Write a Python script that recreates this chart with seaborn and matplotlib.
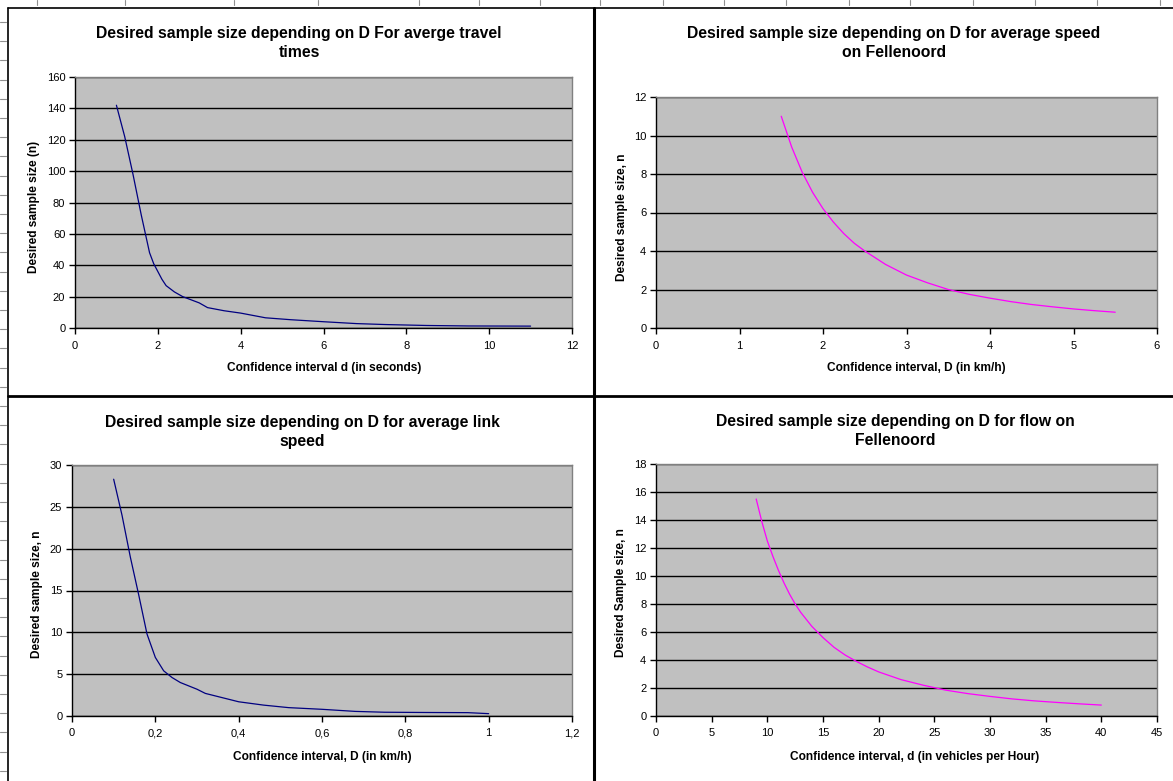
import numpy as np
import matplotlib.pyplot as plt
import matplotlib.ticker as mticker
from matplotlib.lines import Line2D
import seaborn as sns

# values
travel_d = [1.0, 1.1, 1.2, 1.3, 1.4, 1.5, 1.6, 1.7, 1.8, 1.9, 2.0, 2.1, 2.2, 2.4,
            2.6, 2.8, 3.0, 3.2, 3.6, 4.0, 4.6, 5.2, 6.0, 6.8, 7.5, 8.5, 9.5, 11.0]
travel_n = [142, 132, 122, 110, 98, 85, 72, 60, 48, 41, 36, 31, 27, 23,
            20, 18, 16, 13, 11, 9.5, 6.5, 5.3, 4.0, 2.8, 2.2, 1.6, 1.3, 1.2]

speed_d = [1.5, 1.625, 1.75, 1.875, 2.0, 2.125, 2.25, 2.375, 2.5, 2.75, 3.0,
           3.25, 3.5, 3.75, 4.0, 4.25, 4.5, 4.75, 5.0, 5.25, 5.5]
speed_n = [11.0, 9.4, 8.1, 7.05, 6.2, 5.5, 4.9, 4.4, 4.0, 3.3, 2.75,
           2.35, 2.0, 1.75, 1.55, 1.37, 1.22, 1.1, 0.99, 0.9, 0.82]

link_d = [0.10, 0.12, 0.14, 0.16, 0.18, 0.20, 0.22, 0.24, 0.26, 0.28, 0.30, 0.32,
          0.36, 0.40, 0.46, 0.52, 0.60, 0.68, 0.75, 0.85, 0.95, 1.00]
link_n = [28.3, 24, 19, 14.5, 9.8, 7.0, 5.4, 4.6, 4.0, 3.6, 3.2, 2.7,
          2.2, 1.7, 1.3, 1.0, 0.8, 0.55, 0.45, 0.42, 0.4, 0.28]

flow_d = [9, 9.5, 10, 10.5, 11, 11.5, 12, 12.5, 13, 14, 15, 16, 17, 18, 19, 20,
          22, 24, 26, 28, 30, 32, 34, 36, 38, 40]
flow_n = [15.5, 13.9, 12.5, 11.4, 10.4, 9.5, 8.7, 8.0, 7.4, 6.4, 5.6, 4.9, 4.35,
          3.9, 3.5, 3.15, 2.6, 2.2, 1.85, 1.6, 1.4, 1.22, 1.08, 0.97, 0.87, 0.78]

sns.set_theme(style="white")
plt.rcParams['font.family'] = ['Liberation Sans', 'DejaVu Sans']

W, H = 1173, 781
fig = plt.figure(figsize=(W / 100, H / 100), dpi=100)
fig.patch.set_facecolor('white')


def fx(x):
    return x / W


def fy(y):
    return 1 - y / H


def panel(box, d, n, color, xmax, xstep, ymax, ystep, title, title_xy,
          xlabel, xlab_xy, ylabel, ylab_xy, comma=False):
    left, top, right, bottom = box
    ax = fig.add_axes([fx(left), fy(bottom), (right - left) / W, (bottom - top) / H])
    ax.set_facecolor('#C0C0C0')
    sns.lineplot(x=d, y=n, ax=ax, color=color, lw=0.9, estimator=None)
    ax.set_xlim(0, xmax)
    ax.set_ylim(0, ymax)
    ax.xaxis.set_major_locator(mticker.MultipleLocator(xstep))
    ax.yaxis.set_major_locator(mticker.MultipleLocator(ystep))
    if comma:
        ax.xaxis.set_major_formatter(
            mticker.FuncFormatter(lambda v, p: f"{v:g}".replace('.', ',')))
    ax.set_axisbelow(True)
    ax.yaxis.grid(True, color='black', lw=1.0)
    ax.xaxis.grid(False)
    for s in ['left', 'bottom']:
        ax.spines[s].set_color('black')
        ax.spines[s].set_linewidth(1.0)
    for s in ['top', 'right']:
        ax.spines[s].set_color('#808080')
        ax.spines[s].set_linewidth(1.0)
    ax.tick_params(axis='both', direction='out', length=4, width=1.0,
                   color='black', labelsize=8, labelcolor='black',
                   bottom=True, left=True)
    ax.tick_params(axis='x', pad=5)
    ax.tick_params(axis='y', pad=3)
    ax.set_xlabel(xlabel, fontsize=8.6, fontweight='bold', color='black')
    ax.set_ylabel(ylabel, fontsize=8.6, fontweight='bold', color='black')
    ax.xaxis.set_label_coords(fx(xlab_xy[0]), fy(xlab_xy[1]), transform=fig.transFigure)
    ax.yaxis.set_label_coords(fx(ylab_xy[0]), fy(ylab_xy[1]), transform=fig.transFigure)
    fig.text(fx(title_xy[0]), fy(title_xy[1]), title, ha='center', va='center',
             fontsize=11.3, fontweight='bold', linespacing=1.3, color='black')
    return ax


panel((75, 77, 572, 328), travel_d, travel_n, '#000080', 12, 2, 160, 20,
      'Desired sample size depending on D For averge travel\ntimes', (299, 43),
      'Confidence interval d (in seconds)', (324, 362),
      'Desired sample size (n)', (40, 207))

panel((656, 97, 1157, 328), speed_d, speed_n, '#FF00FF', 6, 1, 12, 2,
      'Desired sample size depending on D for average speed\non Fellenoord', (894, 43),
      'Confidence interval, D (in km/h)', (916, 362),
      'Desired sample size, n', (628, 217))

panel((72, 465, 572, 716), link_d, link_n, '#000080', 1.2, 0.2, 30, 5,
      'Desired sample size depending on D for average link\nspeed', (302, 432),
      'Confidence interval, D (in km/h)', (322, 751),
      'Desired sample size, n', (43, 594), comma=True)

panel((656, 464, 1157, 716), flow_d, flow_n, '#FF00FF', 45, 5, 18, 2,
      'Desired sample size depending on D for flow on\nFellenoord', (895, 431),
      'Confidence interval, d (in vehicles per Hour)', (915, 751),
      'Desired Sample size, n', (627, 593))

# chart frames pasted on the sheet
frame = [((8, 8), (1173, 8), 1.2), ((8, 8), (8, 781), 1.2),
         ((594, 8), (594, 781), 2.2), ((8, 396), (1173, 396), 2.0)]
for (x0, y0), (x1, y1), lw in frame:
    fig.add_artist(Line2D([fx(x0), fx(x1)], [fy(y0), fy(y1)], color='black',
                          lw=lw, transform=fig.transFigure))

# spreadsheet row / column markers at the edges
for k in range(40):
    yy = 22 + 19.2 * k
    fig.add_artist(Line2D([0, fx(6)], [fy(yy), fy(yy)], color='#909090', lw=0.8,
                          transform=fig.transFigure))
for xx in [37, 125, 234, 318, 419, 479, 540, 600, 663, 724, 786, 849, 910,
           973, 1035, 1097, 1160]:
    fig.add_artist(Line2D([fx(xx), fx(xx)], [1, fy(5)], color='#909090', lw=0.8,
                          transform=fig.transFigure))

fig.savefig('out.png', dpi=100)
